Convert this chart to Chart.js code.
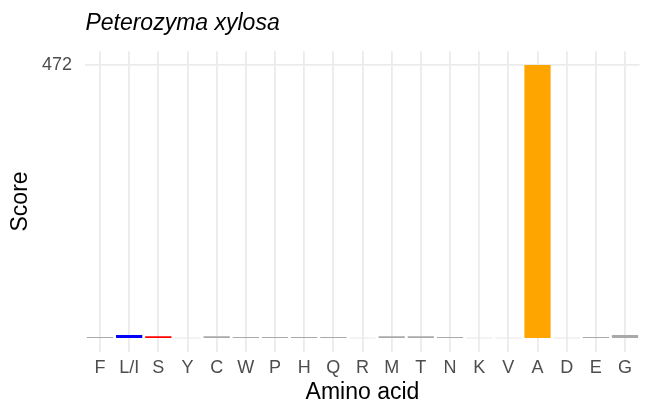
<!DOCTYPE html>
<html>
<head>
<meta charset="utf-8">
<script src="https://cdn.jsdelivr.net/npm/chart.js@4"></script>
<style>
  html, body { margin: 0; padding: 0; background: #ffffff; }
  #wrap { width: 646px; height: 410px; }
</style>
</head>
<body>
<div id="wrap"><canvas id="scoreChart" width="646" height="410"></canvas></div>
<script>
const aminoAcids = ['F', 'L/I', 'S', 'Y', 'C', 'W', 'P', 'H', 'Q', 'R', 'M', 'T', 'N', 'K', 'V', 'A', 'D', 'E', 'G'];
const scores = [1, 5, 3, 0, 3, 1, 1, 1, 1, 0, 3, 3, 1, 0, 0, 472, 0, 1, 5];
const yTicks = [472];
const yMin = -23.6;
const yMax = 495.6;

const fontFamily = '"Liberation Sans", Arial, Helvetica, sans-serif';

function barColour(label, value) {
  if (label === 'L/I') return '#0000ff';
  if (label === 'S') return '#ff0000';
  if (label === 'A') return '#ffa500';
  if (value === 0) return '#e8e8e8';
  return '#a9a9a9';
}

const ctx = document.getElementById('scoreChart');

new Chart(ctx, {
  type: 'bar',
  data: {
    labels: aminoAcids,
    datasets: [{
      label: 'Score',
      data: scores,
      backgroundColor: aminoAcids.map((a, i) => barColour(a, scores[i])),
      borderWidth: 0,
      categoryPercentage: 1,
      barPercentage: 0.9,
      minBarLength: 1
    }]
  },
  options: {
    responsive: false,
    animation: false,
    layout: { padding: { left: 0, right: 6.4, top: 0, bottom: 0 } },
    plugins: {
      legend: { display: false },
      tooltip: { enabled: false },
      title: {
        display: true,
        text: 'Peterozyma xylosa',
        align: 'start',
        fullSize: false,
        color: '#000000',
        font: { family: fontFamily, size: 23, style: 'italic', weight: 'normal' },
        padding: { top: 10.2, bottom: 13.5 }
      }
    },
    scales: {
      x: {
        offset: true,
        border: { display: false },
        grid: { offset: false, color: '#ebebeb', lineWidth: 1.8, drawTicks: false },
        ticks: {
          color: '#4d4d4d',
          padding: 6.1,
          maxRotation: 0,
          autoSkip: false,
          font: { family: fontFamily, size: 18 }
        },
        title: {
          display: true,
          text: 'Amino acid',
          color: '#000000',
          font: { family: fontFamily, size: 23 },
          padding: { top: 0, bottom: 4 }
        },
        afterFit: (scale) => { scale.height = 58.4; }
      },
      y: {
        min: yMin,
        max: yMax,
        border: { display: false },
        grid: { color: '#ebebeb', lineWidth: 1.8, drawTicks: false },
        ticks: {
          color: '#4d4d4d',
          padding: 13.4,
          font: { family: fontFamily, size: 18 }
        },
        afterBuildTicks: (scale) => { scale.ticks = yTicks.map(v => ({ value: v })); },
        title: {
          display: true,
          text: 'Score',
          color: '#000000',
          font: { family: fontFamily, size: 23 },
          padding: { top: 7.2, bottom: 0 }
        },
        afterFit: (scale) => { scale.width = 85.4; }
      }
    }
  }
});
</script>
</body>
</html>
